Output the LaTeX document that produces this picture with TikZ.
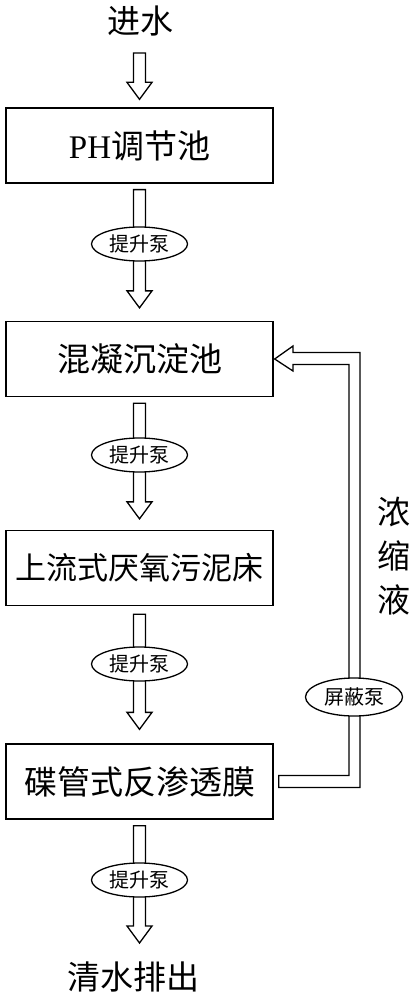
\documentclass[tikz,border=0pt]{standalone}
\usepackage{fontspec}
\newfontfamily\cjk{Noto Sans CJK SC}
\newfontfamily\latserif{Liberation Serif}
\usetikzlibrary{shapes.geometric,calc}
\tikzset{
  stage/.style={draw, line width=1.3pt, minimum width=267pt, minimum height=75pt, inner sep=0pt, font=\cjk\fontsize{33}{36}\selectfont},
  pump/.style={draw, ellipse, fill=white, line width=1.3pt, minimum width=96pt, minimum height=34pt, inner sep=0pt, font=\cjk\fontsize{20}{22}\selectfont},
  label/.style={inner sep=0pt, font=\cjk\fontsize{33}{36}\selectfont},
  arrowline/.style={draw, line width=1.3pt, line join=miter, fill=white}
}
\newcommand\hollowdown[2]{\draw[arrowline] ($(#1)+(-6,0)$) -- ($(#2)+(-6,-17)$) -- ($(#2)+(-12.5,-17)$) -- (#2) -- ($(#2)+(12.5,-17)$) -- ($(#2)+(6,-17)$) -- ($(#1)+(6,0)$) -- cycle;}
\begin{document}
\begin{tikzpicture}[x=1pt,y=-1pt]
\useasboundingbox (0,0) rectangle (415,1000);
% texts
\node[label] (in) at (140,21) {进水};
\node[label] (out) at (133,977) {清水排出};
\node[label, align=center, font=\cjk\fontsize{33}{44}\selectfont] (conc) at (394,556) {浓\\缩\\液};
% stages
\node[stage] (b1) at (139.5,145.5) {{\latserif PH}调节池};
\node[stage] (b2) at (139.5,359) {混凝沉淀池};
\node[stage, font=\cjk\fontsize{31}{34}\selectfont] (b3) at (139.5,568) {上流式厌氧污泥床};
\node[stage] (b4) at (139.5,781.5) {碟管式反渗透膜};
% arrow end points
\coordinate (s1) at (139.5,53);
\coordinate (e1) at ($(b1.north)+(0,-8)$);
\coordinate (s2) at ($(b1.south)+(0,6)$);
\coordinate (e2) at ($(b2.north)+(0,-13)$);
\coordinate (s3) at ($(b2.south)+(0,6)$);
\coordinate (e3) at ($(b3.north)+(0,-11)$);
\coordinate (s4) at ($(b3.south)+(0,8)$);
\coordinate (e4) at ($(b4.north)+(0,-14)$);
\coordinate (s5) at ($(b4.south)+(0,6)$);
\coordinate (e5) at (139.5,943);
\hollowdown{s1}{e1}
\hollowdown{s2}{e2}
\hollowdown{s3}{e3}
\hollowdown{s4}{e4}
\hollowdown{s5}{e5}
% feedback pipe
\coordinate (ft) at ($(b2.east)+(1,0)$);
\coordinate (fs) at ($(b4.east)+(5,0)$);
\draw[arrowline] ($(fs)+(0,-6)$) -- (349,775.5) -- (349,364.5) -- (293,364.5) -- (293,371)
  -- (ft) -- (293,346) -- (293,352.5) -- (360,352.5) -- (360,787.5) -- ($(fs)+(0,6)$) -- cycle;
% pumps
\node[pump] (p1) at (139.5,244) {提升泵};
\node[pump] (p2) at (139.5,455) {提升泵};
\node[pump] (p3) at (139.5,664) {提升泵};
\node[pump] (p4) at (139.5,880) {提升泵};
\node[pump, minimum width=97pt, minimum height=38pt] (sp) at (354,697) {屏蔽泵};
\end{tikzpicture}
\end{document}
